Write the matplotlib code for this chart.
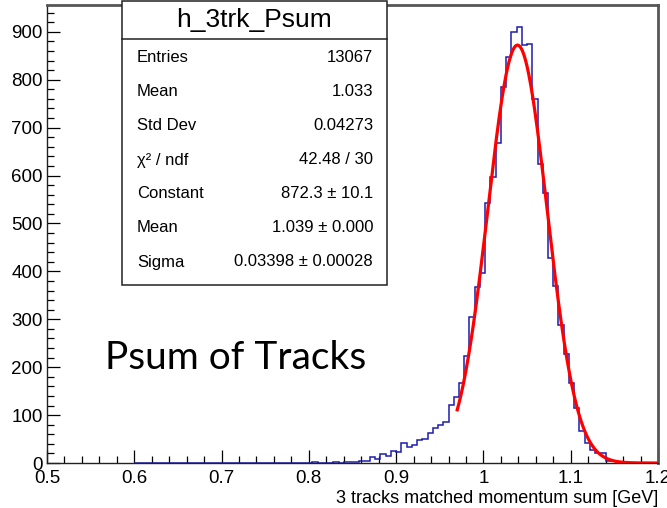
import numpy as np
import matplotlib

matplotlib.use("Agg")
import matplotlib.pyplot as plt
from matplotlib.patches import Rectangle
from matplotlib.ticker import MultipleLocator

# histogram: 100 bins of 0.006 GeV from 0.6 to 1.2
bin_lo, bin_hi = 0.6, 1.2
counts = [
    0, 0, 0, 1, 0, 0, 0, 0, 0, 0,
    0, 0, 0, 0, 0, 0, 0, 0, 0, 0,
    0, 1, 0, 1, 0, 1, 1, 1, 0, 1,
    1, 1, 1, 1, 2, 0, 1, 1, 2, 1,
    3, 3, 3, 4, 5, 12, 8, 18, 15, 26,
    22, 41, 33, 38, 48, 51, 62, 74, 79, 86,
    121, 138, 168, 223, 305, 367, 397, 543, 598, 667,
    784, 847, 900, 911, 873, 874, 759, 624, 563, 427,
    370, 288, 227, 168, 114, 67, 41, 27, 21, 20,
    5, 4, 3, 2, 1, 1, 1, 0, 0, 0,
]

# gaussian fit parameters from the stats box
fit_const, fit_mean, fit_sigma = 872.3, 1.039, 0.03398
fit_range = (0.97, 1.2)

stats_title = "h_3trk_Psum"
stats_labels = ["Entries", "Mean", "Std Dev", "\u03c7\u00b2 / ndf", "Constant", "Mean", "Sigma"]
stats_values = ["13067", "1.033", "0.04273", "42.48 / 30", "872.3 \u00b1 10.1",
                "1.039 \u00b1 0.000", "0.03398 \u00b1 0.00028"]

plt.rcParams["font.family"] = ["Liberation Sans", "DejaVu Sans"]

W, H = 667, 508
fig = plt.figure(figsize=(W / 100, H / 100), dpi=100)
ax = fig.add_axes([47 / W, 1 - 463 / H, (658 - 47) / W, (463 - 5) / H])

edges = np.linspace(bin_lo, bin_hi, len(counts) + 1)
ax.stairs(counts, edges, color="#1c1cb0", lw=1.1, zorder=2)

xf = np.linspace(fit_range[0], fit_range[1], 400)
yf = fit_const * np.exp(-0.5 * ((xf - fit_mean) / fit_sigma) ** 2)
ax.plot(xf, yf, color="#ff0000", lw=2.3, zorder=3)

ax.set_xlim(0.5, 1.2)
ax.set_ylim(0, 956)
ax.xaxis.set_major_locator(MultipleLocator(0.1))
ax.xaxis.set_minor_locator(MultipleLocator(0.02))
ax.yaxis.set_major_locator(MultipleLocator(100))
ax.yaxis.set_minor_locator(MultipleLocator(20))
ax.xaxis.set_major_formatter(matplotlib.ticker.FuncFormatter(lambda v, p: f"{v:g}"))
ax.tick_params(which="major", direction="in", length=9.5, width=0.9, labelsize=13.5,
               top=False, right=False)
ax.tick_params(which="minor", direction="in", length=5, width=0.9, top=False, right=False)
ax.tick_params(axis="x", pad=5)
ax.tick_params(axis="y", pad=3)

for side in ("top", "right"):
    ax.spines[side].set_color("#555555")
    ax.spines[side].set_linewidth(2)
for side in ("left", "bottom"):
    ax.spines[side].set_color("#222222")
    ax.spines[side].set_linewidth(1)

ax.set_xlabel("3 tracks matched momentum sum [GeV]", fontsize=13, loc="right", labelpad=2)

# stats box
bx0, bx1 = 122 / W, 387 / W
by_top, by_bot = 1 - 0.5 / H, 1 - 285 / H
fig.add_artist(Rectangle((bx0, by_bot), bx1 - bx0, by_top - by_bot, transform=fig.transFigure,
                         facecolor="white", edgecolor="#222222", lw=1.1, zorder=5))
fig.add_artist(matplotlib.lines.Line2D([bx0, bx1], [1 - 39 / H, 1 - 39 / H],
                                       transform=fig.transFigure, color="#222222", lw=1.1, zorder=6))
fig.text((bx0 + bx1) / 2, 1 - 20 / H, stats_title, ha="center", va="center", fontsize=19, zorder=7)
for i, (lab, val) in enumerate(zip(stats_labels, stats_values)):
    yy = 1 - (58 + i * 34) / H
    fig.text(137 / W, yy, lab, ha="left", va="center", fontsize=12, zorder=7)
    fig.text(373 / W, yy, val, ha="right", va="center", fontsize=12, zorder=7)

fig.text(105 / W, 1 - 369 / H, "Psum of Tracks", ha="left", va="baseline",
         fontsize=28, family=["Lato", "DejaVu Sans"])

fig.savefig("out.png", dpi=100)
